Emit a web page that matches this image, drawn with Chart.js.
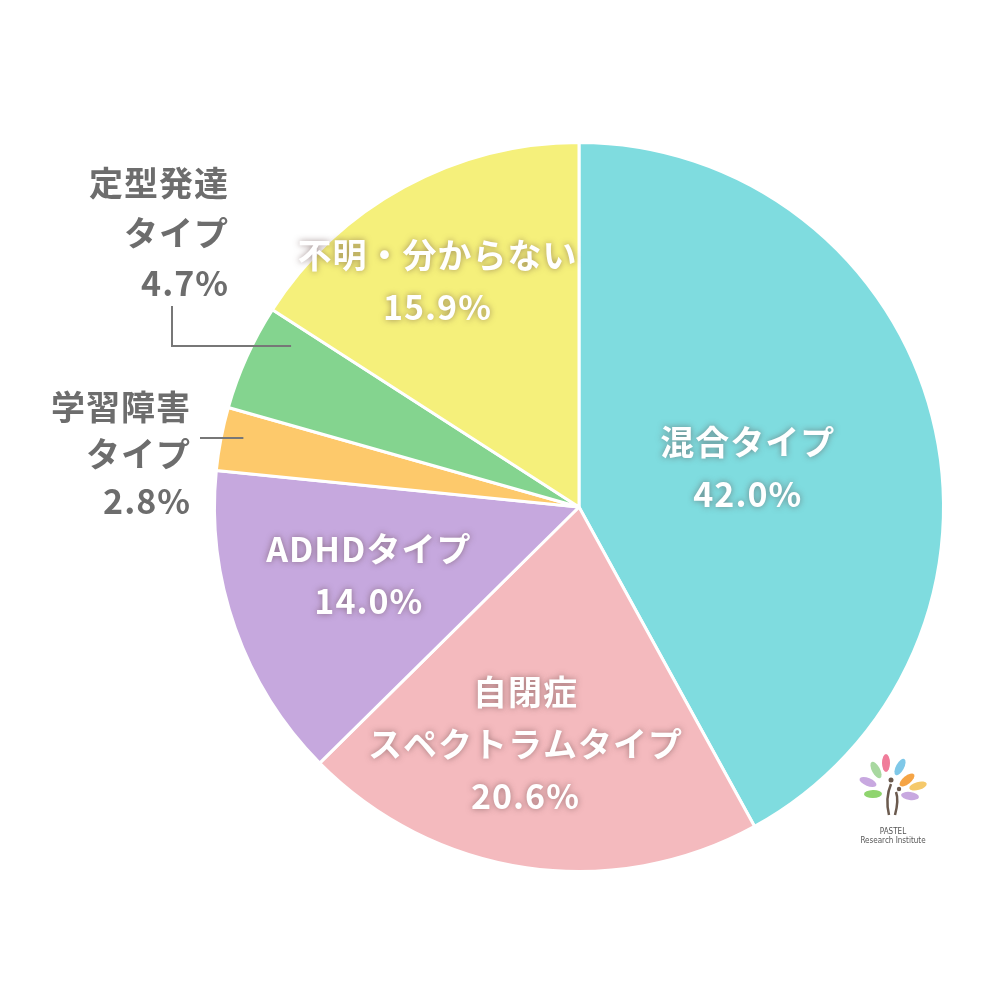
<!DOCTYPE html>
<html>
<head>
<meta charset="utf-8">
<script src="https://cdn.jsdelivr.net/npm/chart.js@4/dist/chart.umd.min.js"></script>
<style>
  html, body { margin: 0; padding: 0; background: #fff; }
  #wrap { width: 1000px; height: 1000px; }
</style>
</head>
<body>
<div id="wrap"><canvas id="c" width="1000" height="1000"></canvas></div>
<script>
const labels = [
  ['混合タイプ'],
  ['自閉症', 'スペクトラムタイプ'],
  ['ADHDタイプ'],
  ['学習障害', 'タイプ'],
  ['定型発達', 'タイプ'],
  ['不明・分からない']
];
const values = [42.0, 20.6, 14.0, 2.8, 4.7, 15.9];
const colors = ['#7fdcdf', '#f4babe', '#c6a8de', '#fdc96b', '#84d48f', '#f5f07b'];

// label placement per slice: inside (t along arc, r fraction of radius) or outside with leader
const placement = [
  { inside: true, t: 0.51, r: 0.475 },
  { inside: true, t: 0.56, r: 0.667 },
  { inside: true, t: 0.53, r: 0.606 },
  { inside: false, t: 0.58, r: 0.94, textX: 191, textY: 407, lineH: 47, lineTo: 200, elbow: false },
  { inside: false, t: 0.79, r: 0.905, textX: 229, textY: 183, lineH: 50, lineTo: 172, elbow: true },
  { inside: true, t: 0.44, r: 0.732 }
];

const FONT = 'bold 34px "Noto Sans CJK JP", "Noto Sans", sans-serif';
const LINE_H = 52;

const labelPlugin = {
  id: 'sliceLabels',
  afterDatasetsDraw(chart) {
    const ctx = chart.ctx;
    const meta = chart.getDatasetMeta(0);
    meta.data.forEach((arc, i) => {
      const p = placement[i];
      const a = arc.startAngle + p.t * (arc.endAngle - arc.startAngle);
      const px = arc.x + Math.cos(a) * arc.outerRadius * p.r;
      const py = arc.y + Math.sin(a) * arc.outerRadius * p.r;
      const lines = labels[i].concat([values[i].toFixed(1) + '%']);
      ctx.save();
      ctx.font = FONT;
      ctx.letterSpacing = '1px';
      ctx.textBaseline = 'middle';
      if (p.inside) {
        ctx.textAlign = 'center';
        ctx.fillStyle = '#ffffff';
        ctx.shadowColor = 'rgba(90,60,60,0.55)';
        ctx.shadowBlur = 6;
        const y0 = py - (lines.length - 1) * LINE_H / 2;
        lines.forEach((s, k) => ctx.fillText(s, px, y0 + k * LINE_H));
      } else {
        ctx.textAlign = 'right';
        ctx.fillStyle = '#6d6d6d';
        lines.forEach((s, k) => ctx.fillText(s, p.textX, p.textY + k * p.lineH));
        ctx.strokeStyle = '#777777';
        ctx.lineWidth = 2;
        ctx.beginPath();
        ctx.moveTo(px, py);
        ctx.lineTo(p.lineTo, py);
        if (p.elbow) ctx.lineTo(p.lineTo, py - 40);
        ctx.stroke();
      }
      ctx.restore();
    });
  }
};

const logoPlugin = {
  id: 'logo',
  afterDraw(chart) {
    const ctx = chart.ctx;
    const cx = 893, cy = 790;
    const leaves = [
      [-17, -20, '#a8d8a0', -0.5], [-7, -27, '#f07c9a', 0], [7, -23, '#7fc8e8', 0.5],
      [-25, -8, '#c8a8e0', -1.2], [14, -10, '#f5a445', 0.9], [25, -4, '#f5c96b', 1.3],
      [-20, 4, '#8fd46e', -1.6], [17, 6, '#c8a8e0', 1.7]
    ];
    ctx.save();
    leaves.forEach(([dx, dy, c, rot]) => {
      ctx.beginPath();
      ctx.ellipse(cx + dx, cy + dy, 4, 9, rot, 0, Math.PI * 2);
      ctx.fillStyle = c;
      ctx.fill();
    });
    ctx.strokeStyle = '#6b5a4e';
    ctx.lineWidth = 2.5;
    ctx.beginPath();
    ctx.moveTo(cx - 4, cy + 25);
    ctx.quadraticCurveTo(cx - 8, cy + 8, cx - 2, cy - 6);
    ctx.stroke();
    ctx.beginPath();
    ctx.moveTo(cx + 2, cy + 25);
    ctx.quadraticCurveTo(cx + 6, cy + 10, cx + 3, cy + 2);
    ctx.stroke();
    ctx.fillStyle = '#6b5a4e';
    ctx.beginPath(); ctx.arc(cx - 2, cy - 10, 2.5, 0, Math.PI * 2); ctx.fill();
    ctx.beginPath(); ctx.arc(cx + 6, cy - 1, 2.2, 0, Math.PI * 2); ctx.fill();
    ctx.fillStyle = '#555';
    ctx.textAlign = 'center';
    ctx.textBaseline = 'middle';
    ctx.font = '8px "Liberation Sans Narrow", "DejaVu Sans Condensed", sans-serif';
    ctx.fillText('PASTEL', cx, cy + 42);
    ctx.fillText('Research Institute', cx, cy + 51);
    ctx.restore();
  }
};

new Chart(document.getElementById('c'), {
  type: 'pie',
  data: {
    labels: labels.map(l => l.join('')),
    datasets: [{
      data: values,
      backgroundColor: colors,
      borderColor: '#ffffff',
      borderWidth: 3
    }]
  },
  options: {
    responsive: false,
    animation: false,
    layout: { padding: { left: 213, right: 55, top: 141, bottom: 127 } },
    plugins: {
      legend: { display: false },
      tooltip: { enabled: false }
    }
  },
  plugins: [labelPlugin, logoPlugin]
});
</script>
</body>
</html>
